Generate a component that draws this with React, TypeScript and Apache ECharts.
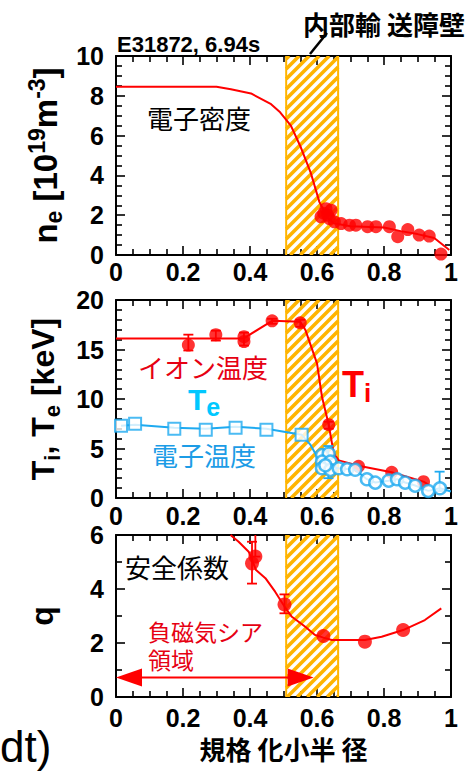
import React, { useEffect, useRef } from "react";
import * as echarts from "echarts";

// ---------- data ----------
const bandStart = 0.508;
const bandEnd = 0.663;

const neLineX = [0, 0.3, 0.343, 0.403, 0.463, 0.49, 0.522, 0.552, 0.582, 0.607, 0.617, 0.63, 0.65, 0.7, 0.8, 0.85, 0.9, 0.95, 0.995];
const neLineY = [8.45, 8.45, 8.33, 8.12, 7.58, 7.17, 6.5, 5.4, 4.1, 2.67, 2.35, 1.9, 1.6, 1.45, 1.38, 1.2, 1.05, 0.85, 0.25];
const nePtsX = [0.612, 0.62, 0.627, 0.632, 0.637, 0.642, 0.652, 0.672, 0.697, 0.716, 0.751, 0.776, 0.816, 0.841, 0.871, 0.905, 0.935, 0.97];
const nePtsY = [1.92, 2.1, 2.33, 2.0, 1.83, 2.25, 1.67, 1.58, 1.5, 1.5, 1.42, 1.42, 1.42, 0.92, 1.28, 1.0, 0.95, 0.05];

const tiLineX = [0, 0.38, 0.466, 0.55, 0.565, 0.6, 0.615, 0.635, 0.65, 0.665, 0.724, 0.823, 0.918, 0.935];
const tiLineY = [16.1, 16.1, 17.9, 17.8, 17.0, 13.6, 10.2, 7.4, 4.5, 3.8, 3.25, 2.6, 1.65, 1.3];
const tiPtsX = [0.216, 0.298, 0.382, 0.382, 0.466, 0.55, 0.635, 0.724, 0.823, 0.918];
const tiPtsY = [15.45, 16.5, 16.3, 15.8, 17.9, 17.7, 7.4, 3.2, 2.6, 1.65];
const tiErrX = [0.216, 0.298, 0.382, 0.466, 0.55, 0.635];
const tiErrLo = [14.9, 15.9, 15.4, 17.6, 17.3, 7.0];
const tiErrHi = [16.5, 16.9, 16.7, 18.1, 18.0, 7.7];

const teLineX = [0.015, 0.057, 0.174, 0.268, 0.357, 0.449, 0.554, 0.58, 0.6, 0.62, 0.64, 0.665, 0.714, 0.749, 0.774, 0.814, 0.839, 0.863, 0.893, 0.932, 0.967, 1.0];
const teLineY = [7.3, 7.4, 7.1, 7.0, 7.2, 7.0, 6.4, 5.4, 4.2, 3.5, 3.1, 3.0, 2.85, 1.9, 1.57, 1.75, 1.9, 1.57, 1.26, 0.72, 0.99, 0.65];
const teSqX = [0.015, 0.057, 0.174, 0.268, 0.357, 0.449, 0.554];
const teSqY = [7.3, 7.5, 7.0, 6.9, 7.1, 6.9, 6.4];
const teCircX = [0.615, 0.635, 0.615, 0.64, 0.615, 0.64, 0.625, 0.665, 0.69, 0.714, 0.749, 0.774, 0.814, 0.839, 0.863, 0.893, 0.932, 0.967];
const teCircY = [4.34, 4.5, 3.67, 3.67, 3.0, 2.83, 3.3, 3.0, 2.9, 2.85, 1.89, 1.55, 1.75, 1.89, 1.55, 1.24, 0.71, 0.98];
const teErrX = [0.634, 0.966];
const teErrLo = [2.0, 0.7];
const teErrHi = [5.25, 2.66];

const qLineX = [0.342, 0.366, 0.396, 0.418, 0.446, 0.475, 0.503, 0.525, 0.565, 0.594, 0.619, 0.644, 0.743, 0.793, 0.857, 0.922, 0.971];
const qLineY = [6.0, 5.75, 5.38, 4.7, 4.4, 3.9, 3.35, 2.97, 2.6, 2.3, 2.2, 2.11, 2.11, 2.23, 2.48, 2.85, 3.28];
const qPtsX = [0.406, 0.416, 0.503, 0.619, 0.743, 0.857];
const qPtsY = [4.95, 5.2, 3.43, 2.26, 2.05, 2.48];
const qErrX = [0.406, 0.416, 0.503];
const qErrLo = [4.2, 5.2, 3.1];
const qErrHi = [5.75, 6.6, 3.8];

const arrowFrom = 0;
const arrowTo = 0.59;
const arrowQ = 0.72;

// ---------- styling ----------
const RED = "#ff0000";
const TE = "#1eaaf0";
const HATCH = "#ffb400";
const LAT = '"Liberation Sans", Arial, sans-serif';
const CJK = '"Noto Sans CJK JP", sans-serif';

const zip = (xs: number[], ys: number[]) => xs.map((x, i) => [x, ys[i]]);
const zip3 = (xs: number[], a: number[], b: number[]) => xs.map((x, i) => [x, a[i], b[i]]);

function hatchRender(params: any, api: any) {
  const cs = params.coordSys;
  const L = api.coord([api.value(0), 0])[0];
  const R = api.coord([api.value(1), 0])[0];
  const T = cs.y;
  const B = cs.y + cs.height;
  const children: any[] = [];
  const step = 10;
  for (let c = L + T + 3; c < R + B; c += step) {
    const xa = Math.max(L, c - B);
    const xb = Math.min(R, c - T);
    if (xb <= xa) continue;
    children.push({
      type: "line",
      shape: { x1: xa, y1: c - xa, x2: xb, y2: c - xb },
      style: { stroke: HATCH, lineWidth: 3.6 },
    });
  }
  children.push({ type: "line", shape: { x1: L, y1: T, x2: L, y2: B }, style: { stroke: HATCH, lineWidth: 2 } });
  children.push({ type: "line", shape: { x1: R, y1: T, x2: R, y2: B }, style: { stroke: HATCH, lineWidth: 2 } });
  return { type: "group", children };
}

const errRender = (color: string) => (params: any, api: any) => {
  const x = api.value(0);
  const a = api.coord([x, api.value(1)]);
  const b = api.coord([x, api.value(2)]);
  const w = 5;
  const st = { stroke: color, lineWidth: 1.8 };
  return {
    type: "group",
    children: [
      { type: "line", shape: { x1: a[0], y1: a[1], x2: b[0], y2: b[1] }, style: st },
      { type: "line", shape: { x1: a[0] - w, y1: a[1], x2: a[0] + w, y2: a[1] }, style: st },
      { type: "line", shape: { x1: b[0] - w, y1: b[1], x2: b[0] + w, y2: b[1] }, style: st },
    ],
  };
};

function arrowRender(params: any, api: any) {
  const a = api.coord([api.value(0), api.value(2)]);
  const b = api.coord([api.value(1), api.value(2)]);
  const len = 26;
  const hw = 9;
  return {
    type: "group",
    children: [
      { type: "line", shape: { x1: a[0] + len - 2, y1: a[1], x2: b[0] - len + 2, y2: b[1] }, style: { stroke: RED, lineWidth: 2 } },
      { type: "polygon", shape: { points: [[a[0], a[1]], [a[0] + len, a[1] - hw], [a[0] + len, a[1] + hw]] }, style: { fill: RED } },
      { type: "polygon", shape: { points: [[b[0], b[1]], [b[0] - len, b[1] - hw], [b[0] - len, b[1] + hw]] }, style: { fill: RED } },
    ],
  };
}

const tickLine = { color: "#000", width: 1.6 };
const labelFont = { fontFamily: LAT, fontWeight: "bold" as const, fontSize: 25, lineHeight: 25, color: "#000" };

function xAxes(gi: number, margin: number, name?: string) {
  const base: any = {
    type: "value",
    gridIndex: gi,
    min: 0,
    max: 1,
    interval: 0.2,
    axisLine: { show: true, onZero: false, lineStyle: { color: "#000", width: 2 } },
    axisTick: { show: true, inside: true, length: 9, lineStyle: tickLine },
    minorTick: { show: true, splitNumber: 4, length: 6, lineStyle: tickLine },
    splitLine: { show: false },
    minorSplitLine: { show: false },
  };
  const bottom: any = {
    ...base,
    position: "bottom",
    axisLabel: { ...labelFont, margin, formatter: (v: number) => String(Math.round(v * 10) / 10) },
  };
  if (name) {
    bottom.name = name;
    bottom.nameLocation = "middle";
    bottom.nameGap = 38;
    bottom.nameTextStyle = { fontFamily: CJK, fontWeight: "bold", fontSize: 26, lineHeight: 26, color: "#000", verticalAlign: "top" };
  }
  return [bottom, { ...base, position: "top", axisLabel: { show: false } }];
}

function yAxes(gi: number, max: number, interval: number, minorSplit: number, name: string, nameGap: number, mainSize: number) {
  const base: any = {
    type: "value",
    gridIndex: gi,
    min: 0,
    max,
    interval,
    axisLine: { show: true, onZero: false, lineStyle: { color: "#000", width: 2 } },
    axisTick: { show: true, inside: true, length: 9, lineStyle: tickLine },
    minorTick: { show: true, splitNumber: minorSplit, length: 6, lineStyle: tickLine },
    splitLine: { show: false },
    minorSplitLine: { show: false },
  };
  const subSize = Math.round(mainSize * 0.7);
  return [
    {
      ...base,
      position: "left",
      axisLabel: { ...labelFont, margin: 12 },
      name,
      nameLocation: "middle",
      nameRotate: 90,
      nameGap,
      nameTextStyle: {
        rich: {
          m: { fontFamily: LAT, fontWeight: "bold", fontSize: mainSize, lineHeight: 40, color: "#000" },
          sub: { fontFamily: LAT, fontWeight: "bold", fontSize: subSize, lineHeight: subSize, verticalAlign: "bottom", color: "#000" },
          sup: { fontFamily: LAT, fontWeight: "bold", fontSize: subSize, lineHeight: subSize, verticalAlign: "top", color: "#000" },
        },
      },
    },
    { ...base, position: "right", axisLabel: { show: false } },
  ];
}

function txt(x: number, y: number, text: string, font: string, fill: string, size: number, align = "left", rich?: any) {
  return {
    type: "text",
    x,
    y,
    silent: true,
    style: { text, font, fill, align, textAlign: align, verticalAlign: "middle", textVerticalAlign: "middle", lineHeight: size, rich },
  };
}

export default function App() {
  const ref = useRef<HTMLDivElement>(null);
  useEffect(() => {
    if (!ref.current) return;
    const chart = echarts.init(ref.current, undefined, { renderer: "svg" });
    const option: any = {
      animation: false,
      backgroundColor: "#fff",
      grid: [
        { left: 116, top: 56, width: 335, height: 199 },
        { left: 116, top: 300, width: 335, height: 198 },
        { left: 116, top: 535, width: 335, height: 162 },
      ],
      xAxis: [...xAxes(0, 4), ...xAxes(1, 5), ...xAxes(2, 8, "規格 化小半 径")],
      yAxis: [
        ...yAxes(0, 10, 2, 4, "{m|n}{sub|e}{m| [10}{sup|19}{m|m}{sup|-3}{m|]}", 47, 33),
        ...yAxes(1, 20, 5, 5, "{m|T}{sub|i}{m|, T}{sub|e}{m| [keV]}", 53, 32),
        ...yAxes(2, 6, 2, 2, "{m|q}", 54, 32),
      ],
      series: [
        // hatch bands
        ...[0, 1, 2].map((gi) => ({
          type: "custom",
          xAxisIndex: gi * 2,
          yAxisIndex: gi * 2,
          data: [[bandStart, bandEnd]],
          renderItem: hatchRender,
          silent: true,
          clip: true,
          z: 1,
        })),
        // panel 1: density
        { type: "line", xAxisIndex: 0, yAxisIndex: 0, data: zip(neLineX, neLineY), showSymbol: false, symbol: "none", lineStyle: { color: RED, width: 2 }, z: 3, clip: true },
        { type: "scatter", xAxisIndex: 0, yAxisIndex: 0, data: zip(nePtsX, nePtsY), symbol: "circle", symbolSize: 13, itemStyle: { color: RED }, z: 4 },
        // panel 2: Ti
        { type: "line", xAxisIndex: 2, yAxisIndex: 2, data: zip(tiLineX, tiLineY), showSymbol: false, symbol: "none", lineStyle: { color: RED, width: 2 }, z: 3 },
        { type: "custom", xAxisIndex: 2, yAxisIndex: 2, data: zip3(tiErrX, tiErrLo, tiErrHi), encode: { x: 0, y: [1, 2] }, renderItem: errRender(RED), z: 4, silent: true },
        { type: "scatter", xAxisIndex: 2, yAxisIndex: 2, data: zip(tiPtsX, tiPtsY), symbol: "circle", symbolSize: 13, itemStyle: { color: RED }, z: 5 },
        // panel 2: Te
        { type: "line", xAxisIndex: 2, yAxisIndex: 2, data: zip(teLineX, teLineY), showSymbol: false, symbol: "none", lineStyle: { color: TE, width: 2 }, z: 6 },
        { type: "custom", xAxisIndex: 2, yAxisIndex: 2, data: zip3(teErrX, teErrLo, teErrHi), encode: { x: 0, y: [1, 2] }, renderItem: errRender(TE), z: 7, silent: true },
        { type: "scatter", xAxisIndex: 2, yAxisIndex: 2, data: zip(teSqX, teSqY), symbol: "rect", symbolSize: 12, itemStyle: { color: "#fff", borderColor: TE, borderWidth: 2 }, z: 8 },
        { type: "scatter", xAxisIndex: 2, yAxisIndex: 2, data: zip(teCircX, teCircY), symbol: "circle", symbolSize: 12, itemStyle: { color: "#fff", borderColor: TE, borderWidth: 2.5 }, z: 8 },
        // panel 3: q
        { type: "line", xAxisIndex: 4, yAxisIndex: 4, data: zip(qLineX, qLineY), showSymbol: false, symbol: "none", lineStyle: { color: RED, width: 2 }, z: 3, clip: true },
        { type: "custom", xAxisIndex: 4, yAxisIndex: 4, data: zip3(qErrX, qErrLo, qErrHi), encode: { x: 0, y: [1, 2] }, renderItem: errRender(RED), z: 4, clip: true, silent: true },
        { type: "scatter", xAxisIndex: 4, yAxisIndex: 4, data: zip(qPtsX, qPtsY), symbol: "circle", symbolSize: 14, itemStyle: { color: RED }, z: 5 },
        { type: "custom", xAxisIndex: 4, yAxisIndex: 4, data: [[arrowFrom, arrowTo, arrowQ]], encode: { x: [0, 1], y: 2 }, renderItem: arrowRender, z: 6, silent: true },
      ],
      graphic: [
        txt(117, 44, "E31872, 6.94s", `bold 22px ${LAT}`, "#000", 22),
        txt(384, 23, "内部輸 送障壁", `bold 26px ${CJK}`, "#000", 26, "center"),
        { type: "line", silent: true, shape: { x1: 310, y1: 54, x2: 327, y2: 33 }, style: { stroke: "#000", lineWidth: 2.5 } },
        txt(147, 117, "電子密度", `26px ${CJK}`, "#000", 26),
        txt(138, 366, "イオン温度", `26px ${CJK}`, "#e60012", 26),
        txt(342, 384, "{a|T}{b|i}", `bold 36px ${LAT}`, "#ff0000", 44, "left", {
          a: { font: `bold 36px ${LAT}`, fill: "#ff0000", lineHeight: 44 },
          b: { font: `bold 26px ${LAT}`, fill: "#ff0000", lineHeight: 26, verticalAlign: "bottom" },
        }),
        txt(188, 399, "{a|T}{b|e}", `bold 30px ${LAT}`, "#00c8ff", 40, "left", {
          a: { font: `bold 30px ${LAT}`, fill: "#00c8ff", lineHeight: 40 },
          b: { font: `bold 25px ${LAT}`, fill: "#00c8ff", lineHeight: 25, verticalAlign: "bottom" },
        }),
        txt(152, 454, "電子温度", `26px ${CJK}`, "#1c9ce6", 26),
        txt(125, 566, "安全係数", `26px ${CJK}`, "#000", 26),
        txt(148, 645, "負磁気シア\n領域", `23px ${CJK}`, "#e60012", 28),
        txt(0, 746, "dt)", `44px ${LAT}`, "#000", 44),
      ],
    };
    chart.setOption(option);
    return () => chart.dispose();
  }, []);
  return <div ref={ref} style={{ position: "fixed", left: 0, top: 0, width: 473, height: 771, background: "#fff" }} />;
}
